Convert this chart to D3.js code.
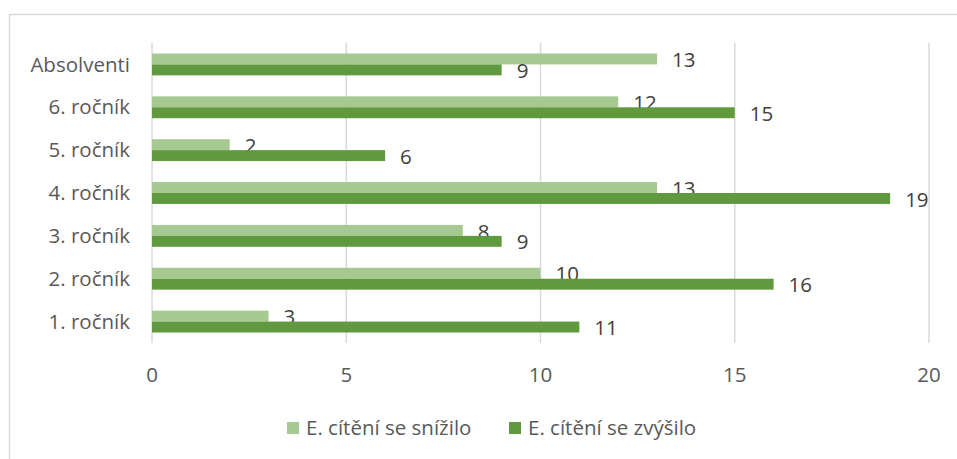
<!DOCTYPE html>
<html>
<head>
<meta charset="utf-8">
<script src="https://cdn.jsdelivr.net/npm/d3@7"></script>
<style>
  body { margin: 0; background: #fff; }
  svg text { font-family: "Open Sans", Lato, sans-serif; }
</style>
</head>
<body>
<div id="chart"></div>
<script>
const categories = ["Absolventi", "6. ročník", "5. ročník", "4. ročník", "3. ročník", "2. ročník", "1. ročník"];
const decreased = [13, 12, 2, 13, 8, 10, 3];
const increased = [9, 15, 6, 19, 9, 16, 11];
const seriesNames = ["E. cítění se snížilo", "E. cítění se zvýšilo"];
const xTicks = [0, 5, 10, 15, 20];

const colors = ["#a6c991", "#619a3e"];
const fontSize = 20.5;

function buildChart() {
    const width = 957, height = 459;
    const svg = d3.select("#chart")
        .append("svg")
        .attr("width", width)
        .attr("height", height);

    // outer chart border
    svg.append("rect")
        .attr("x", 9.5).attr("y", 14.5)
        .attr("width", 960).attr("height", 460)
        .attr("fill", "none")
        .attr("stroke", "#d9d9d9")
        .attr("stroke-width", 1.5);

    const left = 152, right = 929, top = 43, bottom = 343;

    const x = d3.scaleLinear().domain([0, 20]).range([left, right]);
    const y = d3.scaleBand().domain(categories).range([top, bottom]).paddingInner(0.49).paddingOuter(0.245);
    const sub = d3.scaleBand().domain([0, 1]).range([0, y.bandwidth()]);

    // gridlines
    svg.append("g")
        .selectAll("line")
        .data(xTicks)
        .enter().append("line")
        .attr("x1", d => x(d)).attr("x2", d => x(d))
        .attr("y1", top).attr("y2", bottom)
        .attr("stroke", "#d9d9d9")
        .attr("stroke-width", 1.5);

    // x tick labels
    svg.append("g")
        .selectAll("text")
        .data(xTicks)
        .enter().append("text")
        .attr("x", d => x(d))
        .attr("y", 375)
        .attr("dy", "0.35em")
        .attr("text-anchor", "middle")
        .attr("font-size", fontSize)
        .attr("fill", "#595959")
        .text(d => d);

    // category labels
    svg.append("g")
        .selectAll("text")
        .data(categories)
        .enter().append("text")
        .attr("x", 130)
        .attr("y", d => y(d) + y.bandwidth() / 2)
        .attr("dy", "0.35em")
        .attr("text-anchor", "end")
        .attr("font-size", fontSize)
        .attr("fill", "#595959")
        .text(d => d);

    const series = [decreased, increased];

    series.forEach((vals, si) => {
        const g = svg.append("g");
        g.selectAll("rect")
            .data(vals)
            .enter().append("rect")
            .attr("x", x(0))
            .attr("y", (d, i) => y(categories[i]) + sub(si))
            .attr("width", d => x(d) - x(0))
            .attr("height", sub.bandwidth())
            .attr("fill", colors[si]);

        g.selectAll("text")
            .data(vals)
            .enter().append("text")
            .attr("x", d => x(d) + 15)
            .attr("y", (d, i) => y(categories[i]) + sub(si) + sub.bandwidth() / 2 + 1)
            .attr("dy", "0.35em")
            .attr("font-size", fontSize)
            .attr("fill", "#404040")
            .text(d => d);
    });

    // legend
    const legendX = [287, 509];
    const legend = svg.append("g");
    seriesNames.forEach((name, i) => {
        legend.append("rect")
            .attr("x", legendX[i]).attr("y", 422)
            .attr("width", 12).attr("height", 12)
            .attr("fill", colors[i]);
        legend.append("text")
            .attr("x", legendX[i] + 19)
            .attr("y", 428)
            .attr("dy", "0.35em")
            .attr("font-size", fontSize)
            .attr("fill", "#595959")
            .text(name);
    });
}

window.addEventListener("load", buildChart);
</script>
</body>
</html>
